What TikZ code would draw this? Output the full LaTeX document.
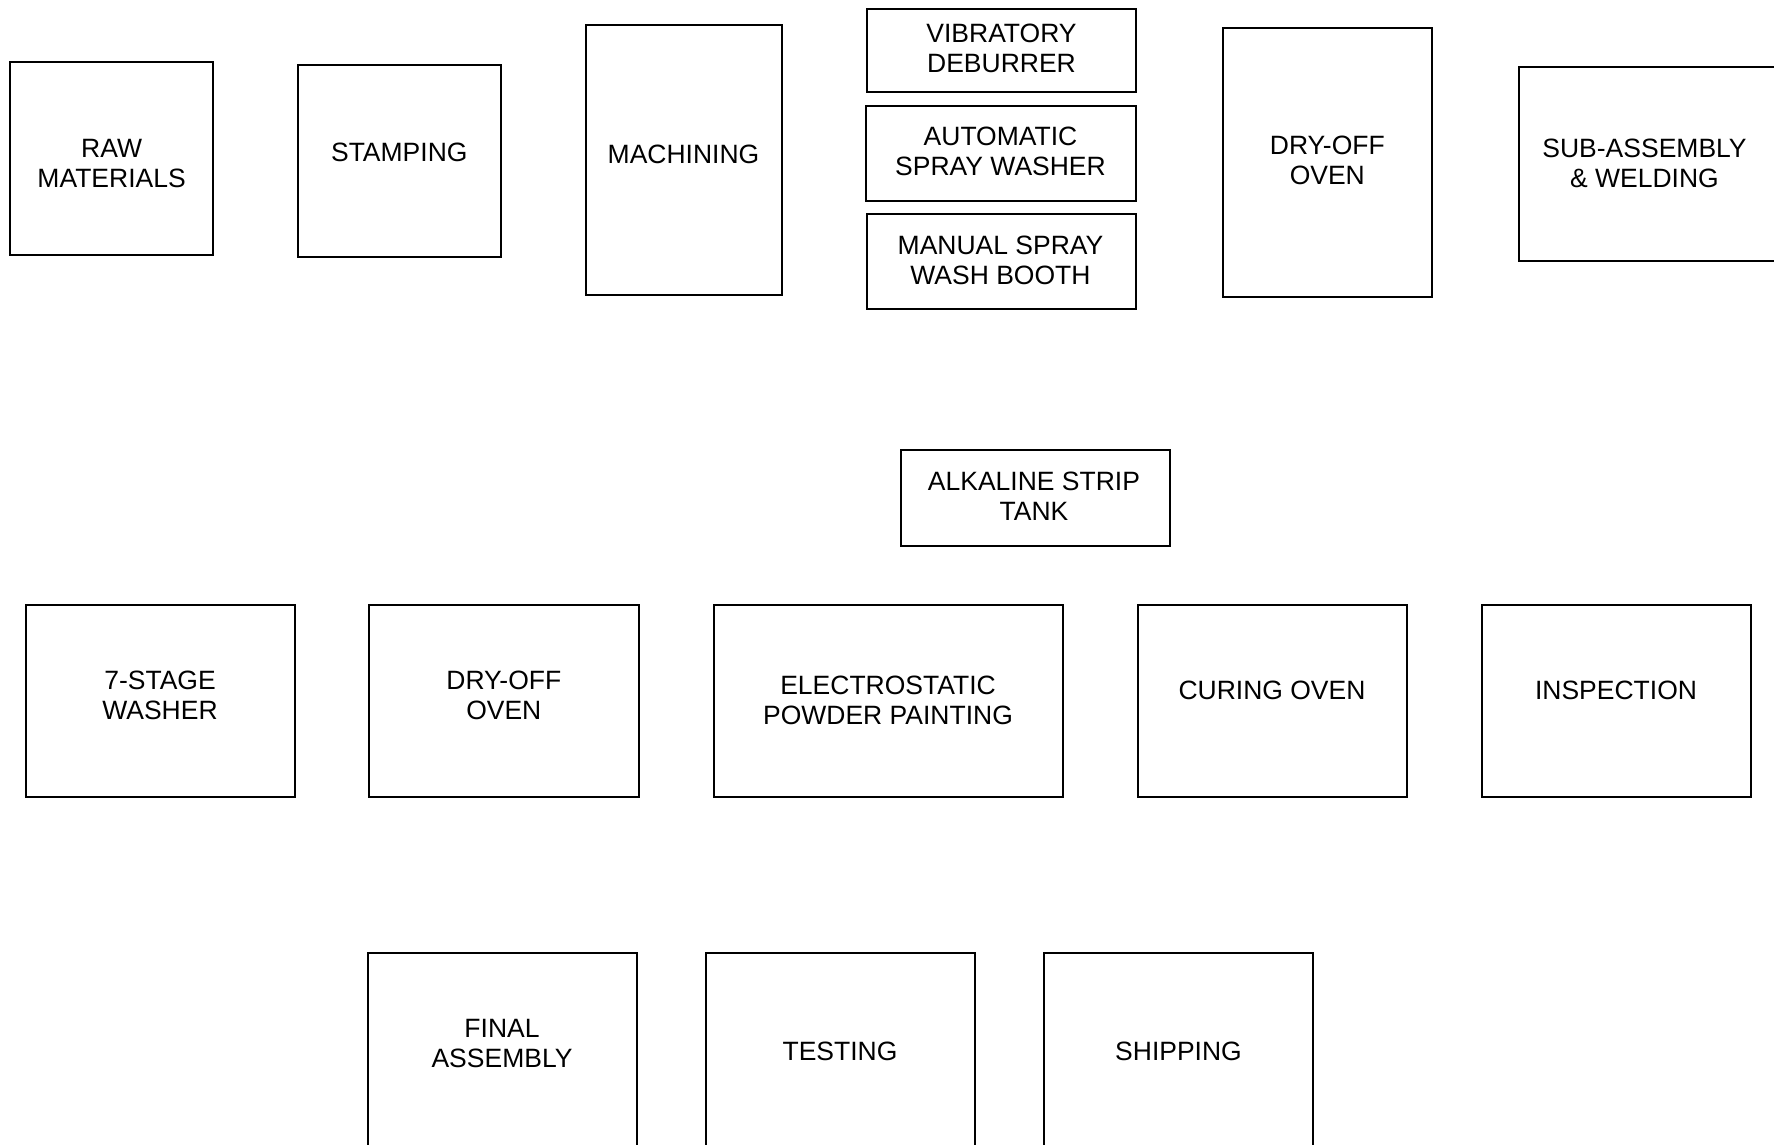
\documentclass[tikz,border=0pt]{standalone}
\usepackage{fontspec}
\setmainfont{Liberation Sans}
\begin{document}
\begin{tikzpicture}[x=1pt,y=-1pt,
  boxline/.style={draw=black, line width=2pt, fill=none},
  lbl/.style={inner sep=0pt, outer sep=0pt, align=center, font=\fontsize{26.5}{30}\selectfont}]
\useasboundingbox (0,0) rectangle (1774,1144);
\clip (0,0) rectangle (1774,1144);
\fill[white] (0,0) rectangle (1774,1144);
% boxes
\newcommand{\procbox}[5]{\path[boxline] (#2,#3) coordinate (#1-tl) rectangle (#4,#5) coordinate (#1-br);}
\procbox{raw}{10}{62}{213}{255}
\procbox{stamp}{298}{65}{500.5}{257}
\procbox{mach}{585.5}{25}{781.5}{294.5}
\procbox{vib}{867}{8.5}{1136}{91.5}
\procbox{auto}{866}{106}{1135.5}{201}
\procbox{manual}{867}{214}{1136}{309}
\procbox{dryA}{1223}{27.5}{1431.5}{296.5}
\procbox{sub}{1518.5}{66.5}{1800}{260.5}
\procbox{alk}{901}{450}{1170}{545.5}
\procbox{wash}{25.5}{604.5}{294.5}{797}
\procbox{dryB}{369}{604.5}{638.5}{797}
\procbox{elec}{713.5}{604.5}{1062.5}{797}
\procbox{cure}{1138}{604.5}{1406.5}{797}
\procbox{insp}{1482}{604.5}{1750.5}{797}
\procbox{final}{367.5}{953}{636.5}{1240}
\procbox{test}{705.5}{953}{974.5}{1240}
\procbox{ship}{1044}{953}{1313}{1240}
% labels
\node[lbl] (rawT) at (111.6,163.5) {RAW\\MATERIALS};
\node[lbl] (stampT) at (399.3,152) {STAMPING};
\node[lbl] (machT) at (683.5,154.7) {MACHINING};
\node[lbl] (vibT) at (1001.5,48.8) {VIBRATORY\\DEBURRER};
\node[lbl] (autoT) at (1000.5,151.7) {AUTOMATIC\\SPRAY WASHER};
\node[lbl] (manualT) at (1000.5,260) {MANUAL SPRAY\\WASH BOOTH};
\node[lbl] (dryAT) at (1327.3,160) {DRY-OFF\\OVEN};
\node[lbl] (subT) at (1644.5,163) {SUB-ASSEMBLY\\\& WELDING};
\node[lbl] (alkT) at (1034,496.7) {ALKALINE STRIP\\TANK};
\node[lbl] (washT) at (160,695.5) {7-STAGE\\WASHER};
\node[lbl] (dryBT) at (503.8,695) {DRY-OFF\\OVEN};
\node[lbl] (elecT) at (888,700) {ELECTROSTATIC\\POWDER PAINTING};
\node[lbl] (cureT) at (1272,690.3) {CURING OVEN};
\node[lbl] (inspT) at (1616,690.3) {INSPECTION};
\node[lbl] (finalT) at (502,1043.7) {FINAL\\ASSEMBLY};
\node[lbl] (testT) at (840,1051.7) {TESTING};
\node[lbl] (shipT) at (1178.5,1051.7) {SHIPPING};
\end{tikzpicture}
\end{document}
